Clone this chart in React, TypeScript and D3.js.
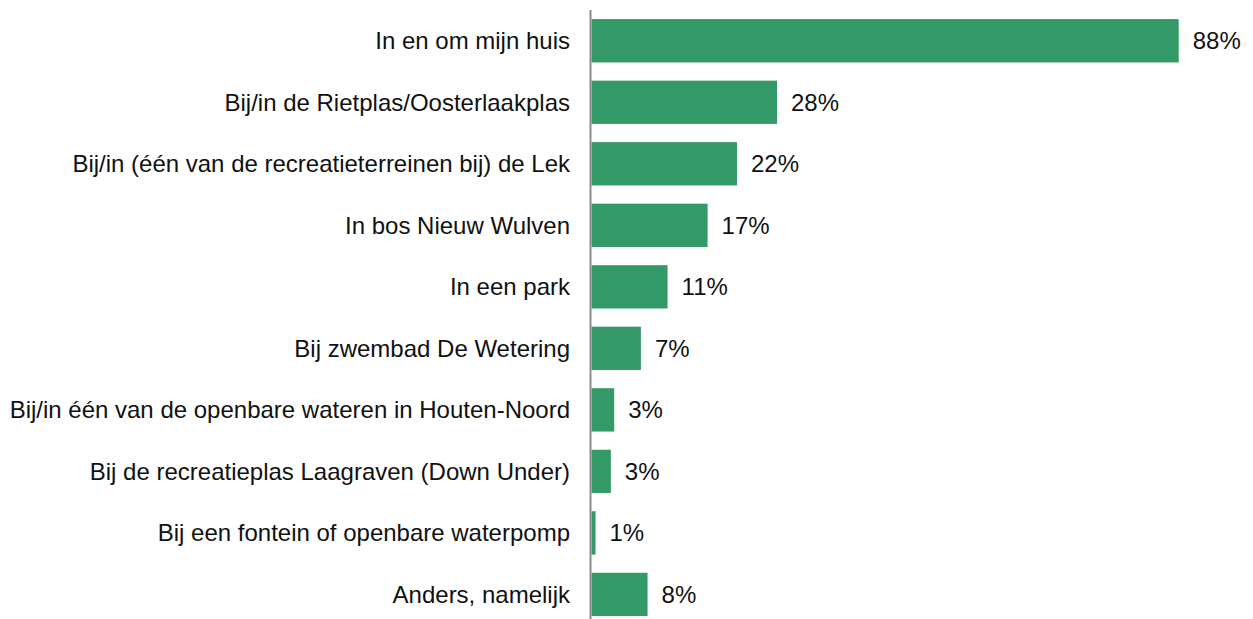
import React from "react";
import * as d3 from "d3";

const categories = [
  "In en om mijn huis",
  "Bij/in de Rietplas/Oosterlaakplas",
  "Bij/in (één van de recreatieterreinen bij) de Lek",
  "In bos Nieuw Wulven",
  "In een park",
  "Bij zwembad De Wetering",
  "Bij/in één van de openbare wateren in Houten-Noord",
  "Bij de recreatieplas Laagraven (Down Under)",
  "Bij een fontein of openbare waterpomp",
  "Anders, namelijk",
];
const values = [88, 27.8, 21.8, 17.4, 11.4, 7.4, 3.4, 2.9, 0.6, 8.4];

const W = 1253;
const H = 619;

export default function App() {
  const x = d3.scaleLinear().domain([0, 88]).range([591.5, 1178.7]);
  const y = d3
    .scaleBand<string>()
    .domain(categories)
    .range([10, 625.2])
    .paddingInner(0.296)
    .paddingOuter(0.148);
  const font = "Arial, 'Liberation Sans', sans-serif";
  return (
    <svg
      width={W}
      height={H}
      style={{ position: "absolute", left: 0, top: 0, display: "block", background: "#fff" }}
    >
      {categories.map((c, i) => {
        const yc = (y(c) as number) + y.bandwidth() / 2;
        return (
          <g key={c}>
            <rect
              x={x(0)}
              y={y(c)}
              width={x(values[i]) - x(0)}
              height={y.bandwidth()}
              fill="#339966"
            />
            <text
              x={570}
              y={yc}
              dy="0.35em"
              textAnchor="end"
              fontFamily={font}
              fontSize={24}
              fill="#111"
            >
              {c}
            </text>
            <text
              x={x(values[i]) + 14}
              y={yc}
              dy="0.35em"
              fontFamily={font}
              fontSize={24}
              fill="#111"
            >
              {d3.format(".0f")(values[i]) + "%"}
            </text>
          </g>
        );
      })}
      <line x1={590.5} x2={590.5} y1={10} y2={625} stroke="#8c8c8c" strokeWidth={2} />
    </svg>
  );
}
